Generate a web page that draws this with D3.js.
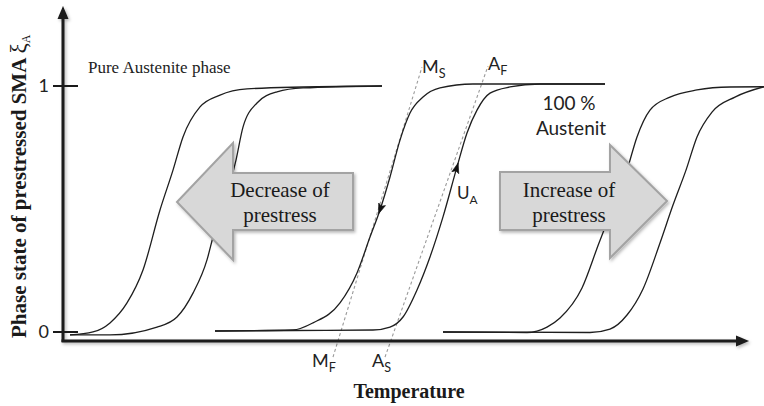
<!DOCTYPE html>
<html>
<head>
<meta charset="utf-8">
<script src="https://cdn.jsdelivr.net/npm/d3@7"></script>
<style>
  html, body { margin: 0; padding: 0; background: #fff; }
  svg { display: block; }
</style>
</head>
<body>
<svg id="chart" width="764" height="406"></svg>
<script>
// Phase fraction of austenite (xi_A) versus temperature for three prestress levels.
// Temperature is in arbitrary units; each loop = cooling branch (M) + heating branch (A).

// Low prestress loop
const lowCoolingT  = [1.4, 6, 9.4, 12.8, 16, 19.4, 22, 24, 27.4, 31.4, 36.8, 48, 63.8];
const lowCoolingXi = [-0.014, -0.002, 0.035, 0.116, 0.25, 0.494, 0.656, 0.791, 0.913, 0.961, 0.986, 0.994, 0.998];
const lowHeatingT  = [1.4, 9.4, 18.8, 22.8, 26, 28.8, 30, 34.6, 36, 38.8, 42.8, 48, 63.8];
const lowHeatingXi = [-0.014, -0.014, 0.018, 0.059, 0.156, 0.291, 0.384, 0.697, 0.831, 0.929, 0.974, 0.990, 0.998];

// Reference prestress loop
const midCoolingT  = [30.4, 46, 50, 55.4, 58.8, 61.4, 63.4, 65.4, 67.4, 69.4, 72, 75.4, 82, 108.4];
const midCoolingXi = [0.002, 0.006, 0.035, 0.116, 0.238, 0.384, 0.494, 0.628, 0.778, 0.888, 0.953, 0.990, 1.006, 1.006];
const midHeatingT  = [30.4, 46, 62, 65.4, 68, 70.8, 73.4, 76, 78.8, 80.8, 82.8, 85.4, 89.4, 95.4, 108.4];
const midHeatingXi = [0.002, 0.004, 0.006, 0.018, 0.059, 0.169, 0.303, 0.466, 0.669, 0.807, 0.900, 0.969, 0.994, 1.006, 1.006];

// High prestress loop
const highCoolingT  = [76, 92.8, 96.8, 99.4, 103.8, 107.2, 110, 112.8, 114.8, 117.4, 121.4, 126.8, 133.4, 140.2];
const highCoolingXi = [-0.002, -0.004, 0.018, 0.055, 0.177, 0.36, 0.506, 0.656, 0.791, 0.900, 0.953, 0.982, 0.994, 0.995];
const highHeatingT  = [76, 105.4, 109.4, 112.8, 116, 119.4, 122, 124.6, 126.8, 129.8, 134.4, 140.2];
const highHeatingXi = [-0.002, -0.004, 0.010, 0.067, 0.173, 0.360, 0.514, 0.656, 0.791, 0.892, 0.953, 0.995];

// Transformation temperature guide lines (endpoints)
const msMfT  = [54, 71.8];
const msMfXi = [-0.104, 1.075];
const asAfT  = [64.4, 85];
const asAfXi = [-0.104, 1.079];

// Axis ticks
const yTickValues = [0, 1];
const yTickLabels = ["0", "1"];

const SANS = "Lato, 'Open Sans', sans-serif";
const SERIF = "'Liberation Serif', 'DejaVu Serif', serif";

const svg = d3.select("#chart");

const x = d3.scaleLinear().domain([0, 137]).range([63, 748]);
const y = d3.scaleLinear().domain([0, 1]).range([331.5, 85.5]);

const defs = svg.append("defs");
const shadow = defs.append("filter").attr("id", "soft-shadow")
  .attr("x", "-10%").attr("y", "-10%").attr("width", "130%").attr("height", "130%");
shadow.append("feDropShadow").attr("dx", 1.5).attr("dy", 1.8)
  .attr("stdDeviation", 1.4).attr("flood-color", "#000").attr("flood-opacity", 0.28);

const zip = (ts, xs) => ts.map((t, i) => ({ t, xi: xs[i] }));
const line = d3.line().x(d => x(d.t)).y(d => y(d.xi)).curve(d3.curveMonotoneX);

// Guide lines for M_S/M_F and A_S/A_F
const gGuides = svg.append("g");
[[msMfT, msMfXi], [asAfT, asAfXi]].forEach(([ts, xs]) => {
  gGuides.append("line")
    .attr("x1", x(ts[0])).attr("y1", y(xs[0]))
    .attr("x2", x(ts[1])).attr("y2", y(xs[1]))
    .attr("stroke", "#9a9a9a").attr("stroke-width", 1.1)
    .attr("stroke-dasharray", "3,2.5");
});

// Hysteresis curves
const curves = [
  zip(lowCoolingT, lowCoolingXi), zip(lowHeatingT, lowHeatingXi),
  zip(midCoolingT, midCoolingXi), zip(midHeatingT, midHeatingXi),
  zip(highCoolingT, highCoolingXi), zip(highHeatingT, highHeatingXi)
];
svg.append("g").selectAll("path").data(curves).join("path")
  .attr("d", line)
  .attr("fill", "none")
  .attr("stroke", "#1e1e1e")
  .attr("stroke-width", 1.3);

// Direction arrows on the reference loop
function arrowOnCurve(pts, i, j) {
  const a = pts[i], b = pts[j];
  const ang = Math.atan2(y(b.xi) - y(a.xi), x(b.t) - x(a.t)) * 180 / Math.PI;
  svg.append("path")
    .attr("d", "M4,0 L-6,-3.6 L-4,0 L-6,3.6 Z")
    .attr("transform", `translate(${x(a.t)},${y(a.xi)}) rotate(${ang})`)
    .attr("fill", "#111").attr("stroke", "#111").attr("stroke-width", 0.6);
}
arrowOnCurve(zip(midCoolingT, midCoolingXi), 6, 5);
arrowOnCurve(zip(midHeatingT, midHeatingXi), 8, 9);

// Axes
const axisColor = "#1a1a1a";
const gAxes = svg.append("g").attr("filter", "url(#soft-shadow)");
gAxes.append("line").attr("x1", 63).attr("y1", 342).attr("x2", 63).attr("y2", 16)
  .attr("stroke", axisColor).attr("stroke-width", 3);
gAxes.append("path").attr("d", "M63,6 L57.5,19 L68.5,19 Z").attr("fill", axisColor);
gAxes.append("line").attr("x1", 61.5).attr("y1", 341).attr("x2", 738).attr("y2", 341)
  .attr("stroke", axisColor).attr("stroke-width", 3);
gAxes.append("path").attr("d", "M749,341 L736,335.5 L736,346.5 Z").attr("fill", axisColor);

const yAxis = d3.axisLeft(y).tickValues(yTickValues).tickFormat((d, i) => yTickLabels[i]).tickSize(10);
const gY = svg.append("g").attr("transform", "translate(63,0)").call(yAxis);
gY.attr("font-family", null).attr("font-size", null);
gY.select(".domain").remove();
gY.selectAll(".tick line").attr("x1", -10).attr("x2", 15)
  .attr("stroke", axisColor).attr("stroke-width", 2);
gY.selectAll(".tick text").attr("x", -14)
  .attr("font-family", SANS).attr("font-size", 18)
  .attr("fill", "#222");

// Big prestress arrows
const bigArrows = [
  { d: "M177,202 L233,143 L233,173 L353,173 L353,230 L233,230 L233,260 Z",
    lines: ["Decrease of", "prestress"], cx: 280 },
  { d: "M667,201 L610,145 L610,172 L500,172 L500,230 L610,230 L610,258 Z",
    lines: ["Increase of", "prestress"], cx: 569 }
];
bigArrows.forEach(a => {
  svg.append("path").attr("d", a.d)
    .attr("fill", "#d8d8d8").attr("stroke", "#a3a3a3").attr("stroke-width", 2)
    .attr("stroke-linejoin", "miter")
    .attr("filter", "url(#soft-shadow)");
  a.lines.forEach((t, i) => {
    svg.append("text").attr("x", a.cx).attr("y", 197 + i * 25)
      .attr("text-anchor", "middle")
      .attr("font-family", SERIF)
      .attr("font-size", 21).attr("fill", "#1a1a1a")
      .text(t);
  });
});

// Annotation text
svg.append("text").attr("x", 88).attr("y", 73)
  .attr("font-family", SERIF).attr("font-size", 17).attr("fill", "#222")
  .text("Pure Austenite phase");

function subLabel(px, py, main, sub, size) {
  const t = svg.append("text").attr("x", px).attr("y", py)
    .attr("font-family", SANS).attr("font-size", size).attr("fill", "#222");
  t.append("tspan").text(main);
  t.append("tspan").attr("dy", size * 0.28).attr("font-size", size * 0.7).text(sub);
}
subLabel(422, 73, "M", "S", 18);
subLabel(488, 70, "A", "F", 18);
subLabel(312, 367, "M", "F", 18);
subLabel(372, 367, "A", "S", 18);
subLabel(457, 199, "U", "A", 17);

svg.append("text").attr("x", 569).attr("y", 110).attr("text-anchor", "middle")
  .attr("font-family", SANS).attr("font-size", 19).attr("fill", "#222").text("100 %");
svg.append("text").attr("x", 571).attr("y", 135).attr("text-anchor", "middle")
  .attr("font-family", SANS).attr("font-size", 19).attr("fill", "#222").text("Austenit");

// Axis titles
svg.append("text").attr("x", 409).attr("y", 398).attr("text-anchor", "middle")
  .attr("font-family", SERIF).attr("font-size", 20).attr("font-weight", "bold")
  .attr("fill", "#1a1a1a").text("Temperature");

const yTitle = svg.append("text")
  .attr("transform", "translate(26,338) rotate(-90)")
  .attr("font-family", SERIF).attr("font-size", 21).attr("font-weight", "bold")
  .attr("fill", "#1a1a1a");
yTitle.append("tspan").text("Phase state of prestressed SMA ");
yTitle.append("tspan").attr("font-weight", "normal").attr("font-size", 23).text("ξ");
yTitle.append("tspan").attr("dy", 4).attr("font-weight", "normal").attr("font-size", 12).text("A");
</script>
</body>
</html>
